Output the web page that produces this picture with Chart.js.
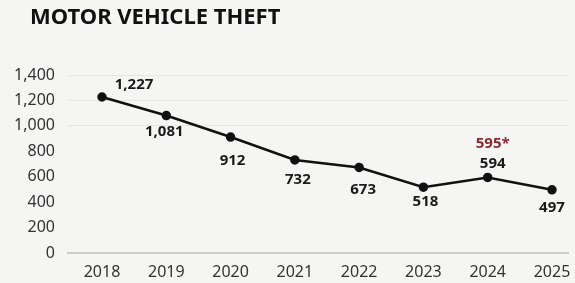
<!DOCTYPE html>
<html>
<head>
<meta charset="utf-8">
<script src="https://cdn.jsdelivr.net/npm/chart.js@4"></script>
<style>
  html, body { margin: 0; padding: 0; background: #f5f5f4; }
  #wrap { width: 575px; height: 283px; }
</style>
</head>
<body>
<div id="wrap"><canvas id="myChart"></canvas></div>
<script>
const years = [2018, 2019, 2020, 2021, 2022, 2023, 2024, 2025];
const thefts = [1227, 1081, 912, 732, 673, 518, 594, 497];
const valueLabels = ["1,227", "1,081", "912", "732", "673", "518", "594", "497"];
const noteYear = 2024;
const noteLabel = "595*";
const yTicks = [0, 200, 400, 600, 800, 1000, 1200, 1400];

// label offsets from each point (px)
const labelShift = [[32, -12], [-2, 16], [2, 24], [3, 20], [4, 22], [2, 15], [5, -14], [0, 18]];

const ctx = document.getElementById("myChart").getContext("2d");

const labelPlugin = {
      id: "labels",
      afterDatasetsDraw(chart) {
            const c = chart.ctx;
            const meta = chart.getDatasetMeta(0);
            c.save();
            c.textAlign = "center";
            c.textBaseline = "middle";
            c.font = "bold 15px 'Noto Sans'";
            c.fillStyle = "#1a1a1a";
            meta.data.forEach((pt, i) => {
                  c.fillText(valueLabels[i], pt.x + labelShift[i][0], pt.y + labelShift[i][1]);
            });
            const k = years.indexOf(noteYear);
            const p = meta.data[k];
            c.fillStyle = "#8a2a35";
            c.fillText(noteLabel, p.x + 5, p.y - 34);

            c.textAlign = "left";
            c.font = "bold 22px 'Noto Sans'";
            c.fillStyle = "#111";
            c.fillText("MOTOR VEHICLE THEFT", 30, 18);
            c.restore();
      }
};

const config = {
      type: "line",
      data: {
            datasets: [{
                  data: years.map((y, i) => ({ x: y, y: thefts[i] })),
                  borderColor: "#111",
                  borderWidth: 2.5,
                  pointRadius: 3.5,
                  pointBackgroundColor: "#111",
                  pointBorderColor: "#111",
                  tension: 0,
            }],
      },
      options: {
            responsive: true,
            maintainAspectRatio: false,
            animation: false,
            layout: { padding: { top: 75, left: 6, right: 0, bottom: 0 } },
            plugins: {
                  legend: { display: false },
                  tooltip: { enabled: false },
            },
            scales: {
                  x: {
                        type: "linear",
                        min: 2017.471,
                        max: 2025.257,
                        afterBuildTicks: (scale) => {
                              scale.ticks = years.map(v => ({ value: v }));
                        },
                        afterFit: (scale) => {
                              scale.height = 30;
                              scale.paddingLeft = 0;
                              scale.paddingRight = 0;
                        },
                        grid: { display: false, drawTicks: false },
                        border: { color: "#cfcfcf", width: 2 },
                        ticks: {
                              padding: 10,
                              color: "#333",
                              font: { family: "'Noto Sans'", size: 16 },
                              callback: (v) => String(v),
                        },
                  },
                  y: {
                        min: 0,
                        max: 1400,
                        afterBuildTicks: (scale) => {
                              scale.ticks = yTicks.map(v => ({ value: v }));
                        },
                        afterFit: (scale) => { scale.width = 62; },
                        border: { display: false },
                        grid: {
                              drawTicks: false,
                              color: (c) => c.tick && c.tick.value >= 1000 ? "rgba(0,0,0,0.06)" : "rgba(0,0,0,0)",
                        },
                        ticks: {
                              padding: 13,
                              color: "#333",
                              font: { family: "'Noto Sans'", size: 16 },
                              callback: (v) => v.toLocaleString("en-US"),
                        },
                  },
            },
      },
      plugins: [labelPlugin],
};

const myChart = new Chart(ctx, config);
</script>
</body>
</html>
